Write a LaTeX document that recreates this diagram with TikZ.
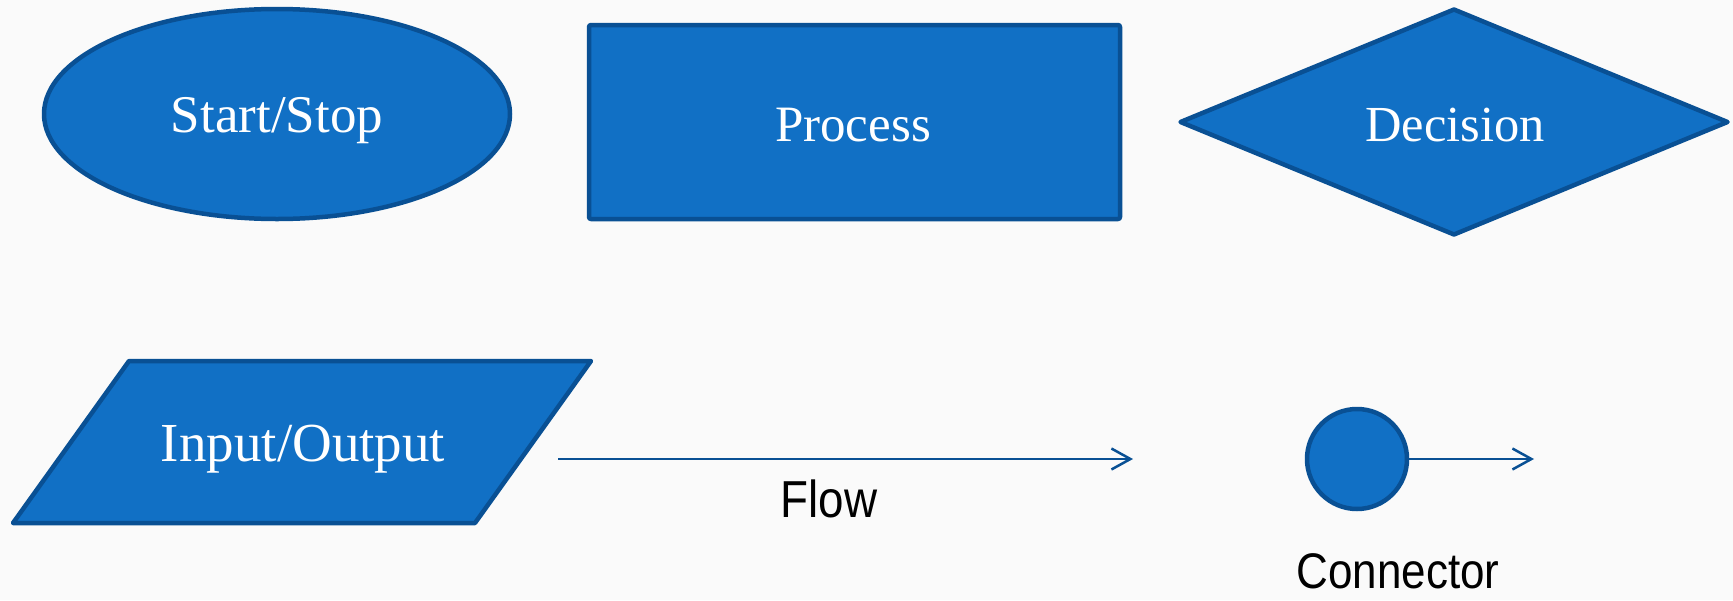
\documentclass[tikz,border=0pt]{standalone}
\usepackage{fontspec}
\setmainfont{Liberation Serif}
\newfontfamily\labelfont{Liberation Sans}[FakeStretch=0.88]
\usetikzlibrary{shapes.geometric,arrows.meta}
\definecolor{shapefill}{RGB}{17,112,197}
\definecolor{shapeline}{RGB}{9,80,148}
\definecolor{paper}{RGB}{250,250,250}
\begin{document}
\begin{tikzpicture}[x=1pt,y=-1pt,
  symbol/.style={fill=shapefill,draw=shapeline,line width=4.5pt,line join=round,
    inner sep=0pt,outer sep=0pt},
  symboltext/.style={text=white,inner sep=0pt,anchor=base},
  caption/.style={text=black,inner sep=0pt,anchor=base,font=\labelfont\fontsize{52}{60}\selectfont},
  flowline/.style={draw=shapeline,line width=2.5pt,
    -{Straight Barb[length=19pt,width=21pt,line width=2.5pt]}}]
% page
\fill[paper] (0,0) rectangle (1733,600);
\useasboundingbox (0,0) rectangle (1733,600);

% terminal
\node[symbol,ellipse,minimum width=466pt,minimum height=210pt] (startstop) at (277,114) {};
\node[symboltext,font=\fontsize{53}{60}\selectfont] (startstoptext) at (277,132) {Start/Stop};

% process
\node[symbol,rectangle,rounded corners=2pt,minimum width=531pt,minimum height=194pt] (process) at (854.5,122) {};
\node[symboltext,font=\fontsize{51}{60}\selectfont] (processtext) at (853,141) {Process};

% decision
\node[symbol,diamond,minimum width=547pt,minimum height=225pt] (decision) at (1454,122) {};
\node[symboltext,font=\fontsize{50.5}{60}\selectfont] (decisiontext) at (1455,141) {Decision};

% input / output
\draw[symbol] (13,523) -- (129,361) -- (591,361) -- (475,523) -- cycle;
\node[symboltext,font=\fontsize{55}{60}\selectfont] (io) at (303,461) {Input/Output};

% flow line
\coordinate (flowstart) at (558,459);
\coordinate (flowend) at (1133,459);
\draw[flowline] (flowstart) -- (flowend);
\node[caption] (flowlabel) at (829,517) {Flow};

% connector
\node[symbol,circle,minimum size=100pt] (connector) at (1357,459) {};
\coordinate (connend) at (1534,459);
\draw[flowline] (connector.east) -- (connend);
\node[caption,font=\labelfont\fontsize{50}{58}\selectfont] (connlabel) at (1398,588) {Connector};
\end{tikzpicture}
\end{document}
